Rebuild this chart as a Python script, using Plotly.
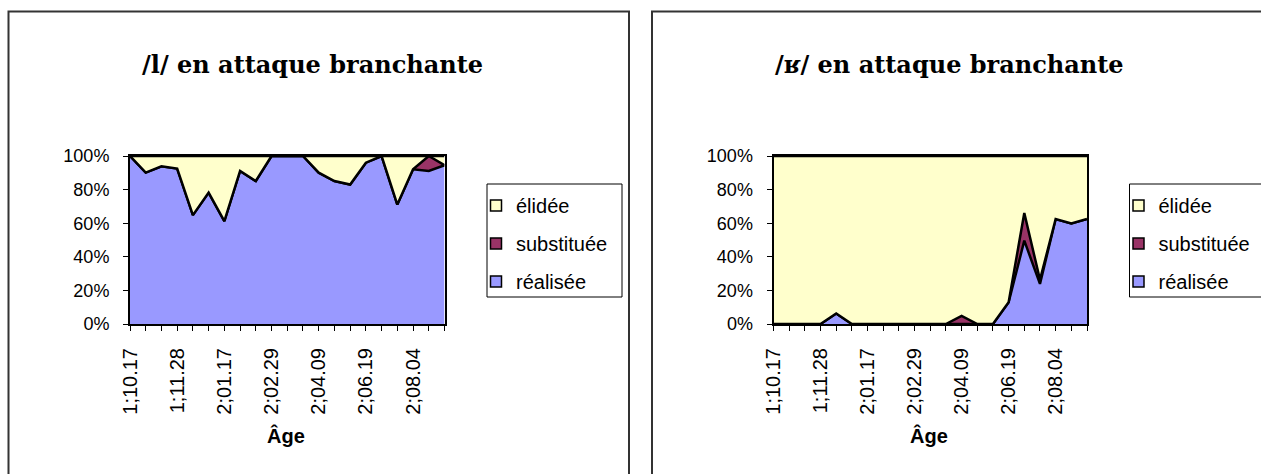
import plotly.graph_objects as go

W, H = 1261, 474

# Age sessions (21 recordings); only every third one is labelled on the axis
ages_shown = ["1;10.17", "1;11.28", "2;01.17", "2;02.29", "2;04.09", "2;06.19", "2;08.04"]
n_sessions = 21

# /l/ in branching onset (% of attempts)
l_realisee = [100, 90.1, 93.9, 92.5, 64.8, 78.2, 61.2, 91.1, 85.1, 100, 100,
              100, 90.1, 85.1, 83.0, 96.0, 100, 71.1, 92.1, 91.1, 94.5]
l_substituee = [0, 0, 0, 0, 0, 0, 0, 0, 0, 0, 0,
                0, 0, 0, 0, 0, 0, 0, 0, 8.9, 0]

# /ʁ/ in branching onset (% of attempts)
r_realisee = [0, 0, 0, 0, 6.2, 0, 0, 0, 0, 0, 0,
              0, 0, 0, 0, 12.9, 49.6, 23.9, 62.5, 59.8, 62.5]
r_substituee = [0, 0, 0, 0, 0, 0, 0, 0, 0, 0, 0,
                0, 4.8, 0, 0, 0, 16.5, 2.4, 0, 0, 0]

titles = ["/l/ en attaque branchante", "/ʁ/ en attaque branchante"]
stack_order = ["réalisée", "substituée", "élidée"]      # bottom to top
legend_order = ["élidée", "substituée", "réalisée"]     # top to bottom
colors = {"réalisée": "#9999FF", "substituée": "#993366", "élidée": "#FFFFCC"}
pct_ticks = [0, 20, 40, 60, 80, 100]

x = list(range(n_sessions))


def px_x(v):
    return v / W


def px_y(v):
    return 1 - v / H


panels = [
    dict(x0=130, x1=444.5, title_x=140, age_x=286, legend_x=487, frame=(8.5, 629),
         data=(l_realisee, l_substituee)),
    dict(x0=773.5, x1=1087, title_x=773, age_x=929, legend_x=1129.5, frame=(652, 1290),
         data=(r_realisee, r_substituee)),
]
plot_top, plot_bottom = 156, 324
legend_top, legend_bottom = 184, 297

fig = go.Figure()

for i, p in enumerate(panels):
    sfx = "" if i == 0 else "2"
    real, subs = p["data"]
    elid = [round(100 - a - b, 1) for a, b in zip(real, subs)]
    values = {"réalisée": real, "substituée": subs, "élidée": elid}
    for name in stack_order:
        fig.add_trace(go.Scatter(
            x=x, y=values[name], name=name, mode="lines",
            stackgroup=f"g{i}", fill="tonexty",
            fillcolor=colors[name], line=dict(color="black", width=2.5),
            xaxis=f"x{sfx}", yaxis=f"y{sfx}", showlegend=False,
            hoverinfo="skip",
        ))
    # legend swatches
    for name in legend_order:
        fig.add_trace(go.Scatter(
            x=[None], y=[None], name=name, mode="markers",
            marker=dict(symbol="square", size=11, color=colors[name],
                        line=dict(color="black", width=1.5)),
            xaxis=f"x{sfx}", yaxis=f"y{sfx}",
            legend="legend" if i == 0 else "legend2",
            legendgroup=f"{name}{i}",
        ))

    axis_common = dict(showline=True, linecolor="black", linewidth=2, mirror=True,
                       ticks="outside", ticklen=5, tickcolor="black", tickwidth=1,
                       showgrid=False, zeroline=False)
    fig.layout[f"xaxis{sfx}"] = dict(
        axis_common, domain=[px_x(p["x0"]), px_x(p["x1"])], range=[0, n_sessions - 1],
        anchor=f"y{sfx}", tickmode="array",
        tickvals=list(range(n_sessions)),
        ticktext=[ages_shown[k // 3] if k % 3 == 0 else "" for k in range(n_sessions)],
        tickangle=-90, ticklabelstandoff=9,
        tickfont=dict(family="Liberation Sans", size=20, color="black"),
    )
    fig.layout[f"yaxis{sfx}"] = dict(
        axis_common, domain=[px_y(plot_bottom), px_y(plot_top)], range=[0, 100],
        anchor=f"x{sfx}", tickmode="array", tickvals=pct_ticks,
        ticktext=[f"{v}%" for v in pct_ticks], ticklabelstandoff=10,
        tickfont=dict(family="Liberation Sans", size=18, color="black"),
    )
    fig.layout["legend" if i == 0 else "legend2"] = dict(
        x=px_x(p["legend_x"] - 11), y=px_y(legend_top + 2), xanchor="left", yanchor="top",
        borderwidth=0, bgcolor="rgba(0,0,0,0)",
        font=dict(family="Liberation Sans", size=20, color="black"),
        traceorder="grouped", tracegroupgap=9,
    )
    # legend frame
    fig.add_shape(type="rect", xref="paper", yref="paper", layer="below",
                  x0=px_x(p["legend_x"]), x1=px_x(p["legend_x"] + 135),
                  y0=px_y(legend_bottom), y1=px_y(legend_top),
                  line=dict(color="black", width=1), fillcolor="white")
    fig.add_annotation(text=f"<b>{titles[i]}</b>", x=px_x(p["title_x"]), y=px_y(64),
                       xref="paper", yref="paper", showarrow=False,
                       xanchor="left", yanchor="middle",
                       font=dict(family="DejaVu Serif", size=24, color="black"))
    fig.add_annotation(text="<b>Âge</b>", x=px_x(p["age_x"]), y=px_y(435),
                       xref="paper", yref="paper", showarrow=False,
                       xanchor="center", yanchor="middle",
                       font=dict(family="Liberation Sans", size=20, color="black"))
    # chart frame
    fx0, fx1 = p["frame"]
    fig.add_shape(type="rect", xref="paper", yref="paper",
                  x0=px_x(fx0), x1=px_x(fx1), y0=px_y(490), y1=px_y(11.5),
                  line=dict(color="#333333", width=2))

fig.update_layout(
    width=W, height=H, margin=dict(l=0, r=0, t=0, b=0, autoexpand=False),
    paper_bgcolor="white", plot_bgcolor="white",
)

fig.write_html("out.html")
